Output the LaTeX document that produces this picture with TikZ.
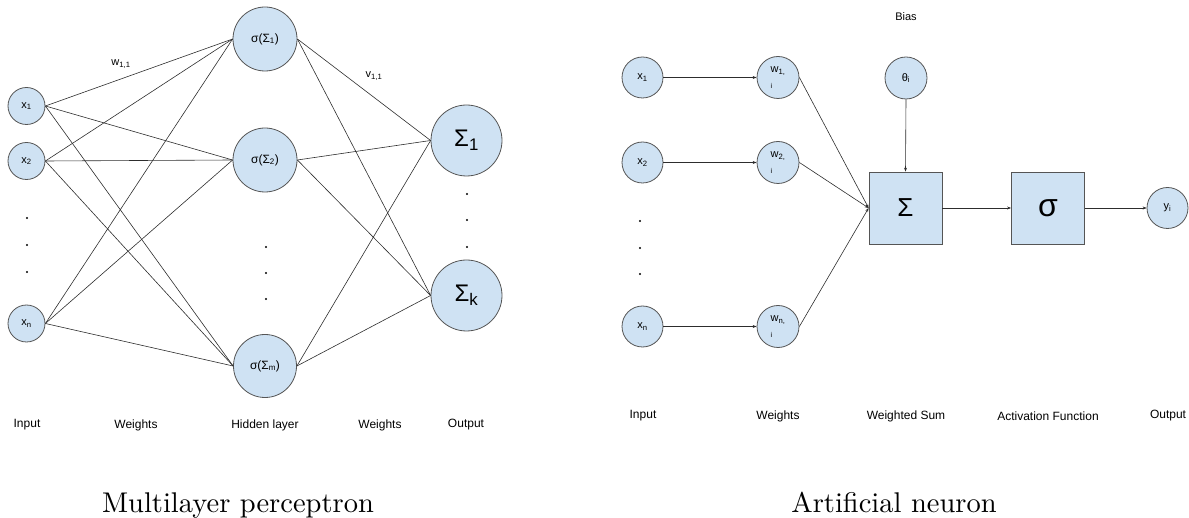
\documentclass[tikz,border=0pt]{standalone}
\usepackage{fontspec}
\newfontfamily\arialf{Liberation Sans}
\newfontfamily\capfont{lmroman10-regular.otf}
\usetikzlibrary{arrows.meta}
\definecolor{nodefill}{RGB}{207,226,243}
\definecolor{bordercol}{RGB}{85,85,85}
\definecolor{linecol}{RGB}{45,45,45}
\newcommand\sbs[1]{\textsubscript{#1}}
\begin{document}
\begin{tikzpicture}[x=1pt,y=-1pt,
  neuron/.style={circle, draw=bordercol, fill=nodefill, line width=0.8pt, inner sep=0pt,
    font=\arialf\fontsize{11}{12}\selectfont},
  boxnode/.style={rectangle, draw=bordercol, fill=nodefill, line width=0.8pt, inner sep=0pt,
    minimum width=73, minimum height=72},
  edge/.style={draw=linecol, line width=0.6pt},
  arr/.style={edge, -{Stealth[length=4pt,width=3pt]}},
  lbl/.style={font=\arialf\fontsize{12}{14}\selectfont, inner sep=0pt},
  wlbl/.style={font=\arialf\fontsize{11}{12}\selectfont, inner sep=0pt},
  captext/.style={font=\capfont\fontsize{28.5}{32}\selectfont, anchor=base, inner sep=0pt},
  dotmark/.style={fill=black}
]
\useasboundingbox (0,0) rectangle (1189,518);

% ---------- Multilayer perceptron ----------
\node[neuron, minimum size=37] (x1) at (26.5,106) {x\sbs{1}};
\node[neuron, minimum size=37] (x2) at (26.5,161) {x\sbs{2}};
\node[neuron, minimum size=37] (xn) at (26.5,323.5) {x\sbs{n}};
\foreach \yy in {218,245,272} \fill[dotmark] (27,\yy) circle (1.1);

\node[neuron, minimum size=64, font=\arialf\fontsize{12}{14}\selectfont] (h1) at (265,39) {σ(Σ\sbs{1})};
\node[neuron, minimum size=64, font=\arialf\fontsize{12}{14}\selectfont] (h2) at (265,160) {σ(Σ\sbs{2})};
\node[neuron, minimum size=63, font=\arialf\fontsize{12}{14}\selectfont] (hm) at (265,366) {σ(Σ\sbs{m})};
\foreach \yy in {247,273,299} \fill[dotmark] (266,\yy) circle (1.1);

\node[neuron, minimum size=71, font=\arialf\fontsize{24}{26}\selectfont] (o1) at (466.5,140.5) {Σ\sbs{1}};
\node[neuron, minimum size=71, font=\arialf\fontsize{24}{26}\selectfont] (ok) at (466.5,295.5) {Σ\sbs{k}};
\foreach \yy in {194,220,247} \fill[dotmark] (467,\yy) circle (1.1);

\foreach \a in {x1,x2,xn}
  \foreach \b in {h1,h2,hm}
    \draw[edge] (\a.east) -- (\b.west);
\foreach \a in {h1,h2,hm}
  \foreach \b in {o1,ok}
    \draw[edge] (\a.east) -- (\b.west);

\node[wlbl] (w11) at (121,64) {w\sbs{1,1}};
\node[wlbl] (v11) at (374,76) {v\sbs{1,1}};

\node[lbl] (lin) at (27,425) {Input};
\node[lbl] (lw1) at (136,425) {Weights};
\node[lbl] (lhid) at (265,425) {Hidden layer};
\node[lbl] (lw2) at (380,425) {Weights};
\node[lbl] (lout) at (466,425) {Output};

\node[captext] (cap1) at (238,512) {Multilayer perceptron};

% ---------- Artificial neuron ----------
\node[neuron, minimum size=41] (ax1) at (642.5,77.5) {x\sbs{1}};
\node[neuron, minimum size=41] (ax2) at (642.5,162.5) {x\sbs{2}};
\node[neuron, minimum size=41] (axn) at (642.5,326.5) {x\sbs{n}};
\foreach \yy in {221,248,274} \fill[dotmark] (640,\yy) circle (1.1);

\node[neuron, minimum size=42, align=left] (aw1) at (778,77.5) {w\sbs{1,}\\[4pt]{\fontsize{7}{8}\selectfont i}};
\node[neuron, minimum size=42, align=left] (aw2) at (778,162.5) {w\sbs{2,}\\[4pt]{\fontsize{7}{8}\selectfont i}};
\node[neuron, minimum size=42, align=left] (awn) at (778,326.5) {w\sbs{n,}\\[4pt]{\fontsize{7}{8}\selectfont i}};

\node[neuron, minimum size=42] (th) at (906,78) {θ\sbs{i}};
\node[boxnode, font=\arialf\fontsize{26}{30}\selectfont] (sum) at (905.5,208) {Σ};
\node[boxnode, font=\arialf\fontsize{32}{36}\selectfont] (sig) at (1048,208) {σ};
\node[neuron, minimum size=41] (yi) at (1167.5,208) {y\sbs{i}};

\draw[arr] (ax1.east) -- (aw1.west);
\draw[arr] (ax2.east) -- (aw2.west);
\draw[arr] (axn.east) -- (awn.west);
\draw[arr] (aw1.east) -- (sum.west);
\draw[arr] (aw2.east) -- (sum.west);
\draw[arr] (awn.east) -- (sum.west);
\draw[arr] (th.south) -- (sum.north);
\draw[arr] (sum.east) -- (sig.west);
\draw[arr] (sig.east) -- (yi.west);

\node[lbl, font=\arialf\fontsize{11}{13}\selectfont] (bias) at (906,17) {Bias};
\node[lbl] (rin) at (643,416) {Input};
\node[lbl] (rw) at (778,416) {Weights};
\node[lbl] (rws) at (906,416) {Weighted Sum};
\node[lbl] (raf) at (1048,416) {Activation Function};
\node[lbl] (rout) at (1168,416) {Output};

\node[captext] (cap2) at (894,512) {Artificial neuron};
\end{tikzpicture}
\end{document}
